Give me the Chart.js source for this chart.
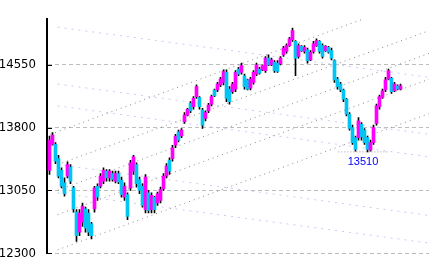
<!DOCTYPE html>
<html>
<head>
<meta charset="utf-8">
<script src="https://cdn.jsdelivr.net/npm/chart.js@4.4.1/dist/chart.umd.min.js"></script>
<style>
  html, body { margin: 0; padding: 0; background: #fff; }
</style>
</head>
<body>
<canvas id="priceChart" width="433" height="272"></canvas>
<script>
// daily candles, oldest first
const yTicks = [12300, 13050, 13800, 14550];

const opens = [
  13290, 13600, 13600, 13430, 13290, 13140, 13220, 13330, 13080, 12790,
  12550, 12670, 12830, 12780, 12650, 12830, 13100, 13100, 13160, 13280,
  13200, 13250, 13160, 13250, 13170, 12970, 13000, 13080, 13280, 13360,
  13180, 13100, 12820, 13020, 12820, 12970, 12900, 12930, 13070, 13220,
  13410, 13430, 13590, 13750, 13700, 13870, 13950, 14090, 14050, 14170,
  14160, 14010, 13910, 14000, 14080, 14250, 14250, 14310, 14340, 14460,
  14260, 14230, 14260, 14500, 14460, 14420, 14370, 14270, 14340, 14440,
  14500, 14490, 14480, 14630, 14550, 14580, 14570, 14560, 14670, 14710,
  14780, 14850, 14830, 14650, 14770, 14710, 14730, 14610, 14710, 14780,
  14830, 14780, 14720, 14760, 14720, 14600, 14380, 14320, 14250, 14140,
  13960, 13800, 13680, 13680, 13840, 13770, 13680, 13530, 13620, 13850,
  14050, 14160, 14250, 14380, 14390, 14240, 14300, 14260
];
const highs = [
  13700, 13740, 13620, 13470, 13320, 13200, 13390, 13360, 13100, 12820,
  12820, 12900, 12850, 12820, 12670, 13100, 13130, 13250, 13320, 13300,
  13300, 13280, 13280, 13280, 13210, 13140, 13020, 13410, 13470, 13380,
  13210, 13130, 13240, 13050, 13020, 12980, 13030, 13090, 13250, 13370,
  13440, 13590, 13720, 13770, 13790, 13980, 14030, 14110, 14170, 14310,
  14170, 14030, 14000, 14090, 14190, 14260, 14340, 14400, 14490, 14490,
  14290, 14340, 14480, 14520, 14570, 14440, 14380, 14400, 14480, 14570,
  14520, 14550, 14650, 14670, 14630, 14600, 14600, 14650, 14770, 14800,
  14880, 14990, 14840, 14800, 14780, 14780, 14750, 14720, 14830, 14860,
  14840, 14800, 14780, 14770, 14750, 14610, 14400, 14340, 14260, 14150,
  13980, 13830, 13700, 13920, 13860, 13790, 13700, 13650, 13830, 14080,
  14190, 14260, 14400, 14500, 14400, 14340, 14310, 14320
];
const lows = [
  13240, 13590, 13370, 13200, 13080, 12980, 13200, 13130, 12790, 12440,
  12510, 12620, 12550, 12510, 12470, 12790, 12930, 13080, 13130, 13160,
  13160, 13160, 13140, 13130, 12970, 12930, 12700, 13050, 13240, 13090,
  13010, 12850, 12780, 12780, 12780, 12780, 12870, 12900, 13050, 13200,
  13240, 13400, 13560, 13630, 13680, 13850, 13940, 13980, 14020, 14150,
  14020, 13790, 13880, 13980, 14060, 14170, 14230, 14290, 14310, 14110,
  14080, 14210, 14230, 14420, 14440, 14260, 14250, 14250, 14320, 14420,
  14440, 14480, 14460, 14540, 14540, 14460, 14460, 14550, 14650, 14690,
  14770, 14830, 14420, 14630, 14710, 14690, 14570, 14600, 14690, 14770,
  14690, 14630, 14710, 14690, 14610, 14340, 14260, 14230, 14110, 13940,
  13770, 13600, 13520, 13650, 13650, 13600, 13510, 13520, 13600, 13830,
  14020, 14150, 14230, 14370, 14210, 14230, 14250, 14250
];
const closes = [
  13650, 13710, 13400, 13220, 13100, 13010, 13360, 13160, 12830, 12510,
  12780, 12860, 12600, 12550, 12510, 13080, 12970, 13220, 13290, 13200,
  13280, 13180, 13250, 13150, 13000, 13100, 12740, 13380, 13450, 13130,
  13050, 12870, 13210, 12810, 12990, 12820, 13010, 13060, 13220, 13340,
  13280, 13560, 13700, 13650, 13770, 13950, 14020, 14000, 14150, 14290,
  14050, 13830, 13980, 14070, 14170, 14180, 14320, 14380, 14470, 14150,
  14110, 14320, 14460, 14440, 14540, 14290, 14260, 14380, 14460, 14550,
  14450, 14540, 14630, 14550, 14610, 14480, 14470, 14630, 14750, 14780,
  14860, 14960, 14630, 14780, 14720, 14760, 14600, 14700, 14800, 14840,
  14710, 14650, 14770, 14700, 14630, 14370, 14290, 14250, 14140, 13960,
  13790, 13620, 13540, 13880, 13690, 13620, 13540, 13620, 13800, 14060,
  14170, 14240, 14370, 14480, 14230, 14320, 14260, 14300
];

// trend lines as [day, price, day, price]
const channelLines = [
  [0.3, 13720, 104.7, 15100],
  [2.7, 13360, 126.7, 14960],
  [2.7, 13050, 126.7, 14690],
  [2.7, 12760, 126.7, 14380],
  [2.7, 12340, 126.7, 13970]
];
const fanLines = [
  [2.7, 15000, 126.7, 14400],
  [2.7, 14320, 126.7, 13720],
  [2.7, 14060, 126.7, 13450],
  [2.7, 13360, 126.7, 12750],
  [2.7, 13020, 126.7, 12420]
];
const supportSpan = [96.3, 112.7];

// low of the recent dip, used for the support line and its note
const dipLow = Math.min(...lows.slice(97, 113));
const days = opens.map((_, i) => i);

function segment(l, color, dash) {
  return {
    type: 'line',
    data: [{ x: l[0], y: l[1] }, { x: l[2], y: l[3] }],
    borderColor: color,
    borderWidth: 1,
    borderDash: dash,
    pointRadius: 0,
    fill: false,
    order: 3
  };
}

// black tick stubs inside the axis + the low price note
const axisExtras = {
  id: 'axisExtras',
  afterDraw(chart) {
    const { ctx, chartArea, scales } = chart;
    ctx.save();
    ctx.strokeStyle = '#000';
    ctx.lineWidth = 1;
    yTicks.forEach(v => {
      const py = Math.round(scales.y.getPixelForValue(v)) + 0.5;
      ctx.beginPath();
      ctx.moveTo(chartArea.left, py);
      ctx.lineTo(chartArea.left + 5, py);
      ctx.stroke();
    });
    ctx.fillStyle = '#0000ff';
    ctx.font = '11px "Liberation Sans", Arial, sans-serif';
    ctx.textAlign = 'center';
    ctx.textBaseline = 'top';
    const lx = scales.x.getPixelForValue((supportSpan[0] + supportSpan[1]) / 2);
    ctx.fillText(String(dipLow), lx, scales.y.getPixelForValue(dipLow) + 5);
    ctx.restore();
  }
};

new Chart(document.getElementById('priceChart'), {
  type: 'bar',
  data: {
    datasets: [
      {
        label: 'body',
        data: days.map(i => ({ x: i, y: [opens[i], closes[i]] })),
        backgroundColor: days.map(i => closes[i] >= opens[i] ? '#ff00ff' : '#00c4f4'),
        barThickness: 3,
        grouped: false,
        order: 0
      },
      {
        label: 'wick',
        data: days.map(i => ({ x: i, y: [lows[i], highs[i]] })),
        backgroundColor: '#000000',
        barThickness: 1,
        grouped: false,
        order: 1
      },
      ...channelLines.map(l => segment(l, '#8a8a8a', [1, 4])),
      ...fanLines.map(l => segment(l, '#cacaf4', [2, 5])),
      segment([supportSpan[0], dipLow, supportSpan[1], dipLow], '#a0a0a0', [1, 2])
    ]
  },
  options: {
    responsive: false,
    animation: false,
    layout: { padding: { top: 14, right: 4, bottom: 14, left: 0 } },
    scales: {
      x: {
        type: 'linear',
        display: false,
        offset: false,
        min: -2.5 / 3,
        max: 379.5 / 3
      },
      y: {
        min: 12300,
        max: 15100,
        afterBuildTicks: scale => { scale.ticks = yTicks.map(v => ({ value: v })); },
        afterFit: scale => { scale.width = 47; },
        grid: {
          color: '#bdbdbd',
          lineWidth: 1,
          drawTicks: false
        },
        border: { display: true, color: '#000', width: 2, dash: [4, 3] },
        ticks: {
          padding: 11,
          color: '#000',
          callback: v => String(v),
          font: { family: '"Liberation Sans Narrow", "DejaVu Sans Condensed", sans-serif', size: 13 }
        }
      }
    },
    plugins: {
      legend: { display: false },
      tooltip: { enabled: false }
    }
  },
  plugins: [axisExtras]
});
</script>
</body>
</html>
